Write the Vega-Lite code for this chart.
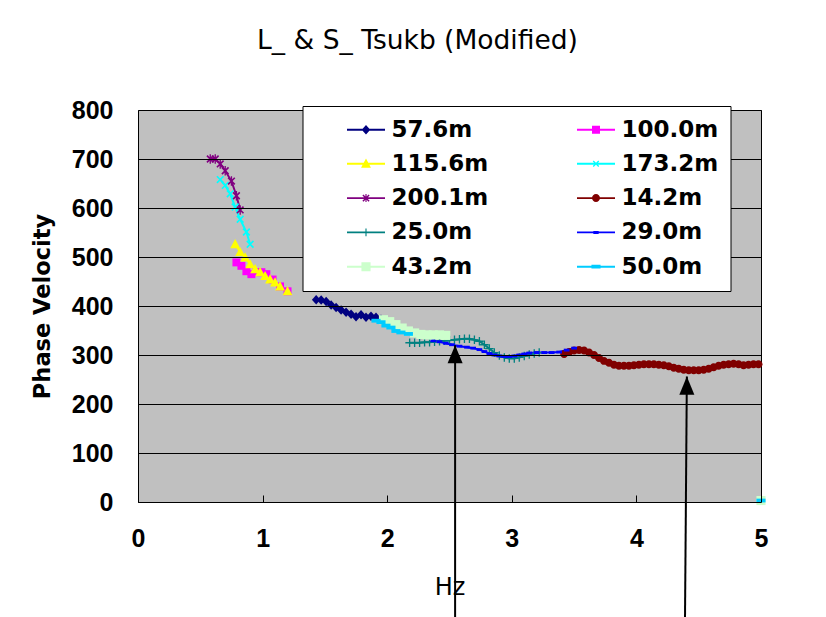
{
  "$schema": "https://vega.github.io/schema/vega-lite/v6.json",
  "autosize": {"type": "none"},
  "width": 623,
  "height": 392,
  "padding": {"left": 138, "top": 110, "right": 65, "bottom": 115},
  "background": "white",
  "view": {"fill": "#c0c0c0", "stroke": "black", "strokeWidth": 1},
  "title": {
    "text": "L_ & S_ Tsukb (Modified)",
    "font": "DejaVu Sans",
    "fontSize": 26.5,
    "fontWeight": "normal",
    "color": "black",
    "anchor": "middle",
    "dx": -32,
    "offset": 44
  },
  "config": {
    "axis": {
      "labelColor": "black",
      "titleColor": "black",
      "labelFont": "Liberation Sans",
      "labelFontWeight": "bold",
      "labelFontSize": 25
    }
  },
  "datasets": {
    "pts": [
      {"s": "57.6m", "f": 1.43, "v": 413}, {"s": "57.6m", "f": 1.47, "v": 412}, {"s": "57.6m", "f": 1.51, "v": 409}, {"s": "57.6m", "f": 1.55, "v": 402}, {"s": "57.6m", "f": 1.59, "v": 397}, {"s": "57.6m", "f": 1.63, "v": 392}, {"s": "57.6m", "f": 1.67, "v": 387}, {"s": "57.6m", "f": 1.71, "v": 383}, {"s": "57.6m", "f": 1.75, "v": 378}, {"s": "57.6m", "f": 1.79, "v": 382}, {"s": "57.6m", "f": 1.83, "v": 377}, {"s": "57.6m", "f": 1.87, "v": 379}, {"s": "57.6m", "f": 1.91, "v": 377}, {"s": "57.6m", "f": 1.95, "v": 373},
      {"s": "100.0m", "f": 0.79, "v": 489}, {"s": "100.0m", "f": 0.83, "v": 482}, {"s": "100.0m", "f": 0.87, "v": 471}, {"s": "100.0m", "f": 0.91, "v": 465}, {"s": "100.0m", "f": 0.95, "v": 469}, {"s": "100.0m", "f": 0.99, "v": 469}, {"s": "100.0m", "f": 1.03, "v": 465}, {"s": "100.0m", "f": 1.08, "v": 454}, {"s": "100.0m", "f": 1.14, "v": 440}, {"s": "100.0m", "f": 1.2, "v": 430},
      {"s": "115.6m", "f": 0.78, "v": 526}, {"s": "115.6m", "f": 0.82, "v": 510}, {"s": "115.6m", "f": 0.86, "v": 499}, {"s": "115.6m", "f": 0.9, "v": 485}, {"s": "115.6m", "f": 0.94, "v": 475}, {"s": "115.6m", "f": 0.98, "v": 469}, {"s": "115.6m", "f": 1.02, "v": 461}, {"s": "115.6m", "f": 1.06, "v": 454}, {"s": "115.6m", "f": 1.1, "v": 448}, {"s": "115.6m", "f": 1.14, "v": 440}, {"s": "115.6m", "f": 1.2, "v": 430},
      {"s": "173.2m", "f": 0.66, "v": 658}, {"s": "173.2m", "f": 0.7, "v": 646}, {"s": "173.2m", "f": 0.74, "v": 629}, {"s": "173.2m", "f": 0.78, "v": 602}, {"s": "173.2m", "f": 0.82, "v": 577}, {"s": "173.2m", "f": 0.87, "v": 551}, {"s": "173.2m", "f": 0.9, "v": 526},
      {"s": "200.1m", "f": 0.58, "v": 700}, {"s": "200.1m", "f": 0.62, "v": 700}, {"s": "200.1m", "f": 0.66, "v": 690}, {"s": "200.1m", "f": 0.7, "v": 676}, {"s": "200.1m", "f": 0.75, "v": 655}, {"s": "200.1m", "f": 0.79, "v": 625}, {"s": "200.1m", "f": 0.82, "v": 596},
      {"s": "14.2m", "f": 3.42, "v": 302}, {"s": "14.2m", "f": 3.46, "v": 306}, {"s": "14.2m", "f": 3.5, "v": 309}, {"s": "14.2m", "f": 3.54, "v": 310}, {"s": "14.2m", "f": 3.58, "v": 309}, {"s": "14.2m", "f": 3.62, "v": 305}, {"s": "14.2m", "f": 3.66, "v": 300}, {"s": "14.2m", "f": 3.7, "v": 294}, {"s": "14.2m", "f": 3.74, "v": 288}, {"s": "14.2m", "f": 3.78, "v": 284}, {"s": "14.2m", "f": 3.82, "v": 280}, {"s": "14.2m", "f": 3.86, "v": 278}, {"s": "14.2m", "f": 3.9, "v": 278}, {"s": "14.2m", "f": 3.94, "v": 278}, {"s": "14.2m", "f": 3.98, "v": 279}, {"s": "14.2m", "f": 4.02, "v": 280}, {"s": "14.2m", "f": 4.06, "v": 281}, {"s": "14.2m", "f": 4.1, "v": 281}, {"s": "14.2m", "f": 4.14, "v": 281}, {"s": "14.2m", "f": 4.18, "v": 280}, {"s": "14.2m", "f": 4.22, "v": 279}, {"s": "14.2m", "f": 4.26, "v": 277}, {"s": "14.2m", "f": 4.3, "v": 274}, {"s": "14.2m", "f": 4.34, "v": 272}, {"s": "14.2m", "f": 4.38, "v": 270}, {"s": "14.2m", "f": 4.42, "v": 269}, {"s": "14.2m", "f": 4.46, "v": 269}, {"s": "14.2m", "f": 4.5, "v": 269}, {"s": "14.2m", "f": 4.54, "v": 270}, {"s": "14.2m", "f": 4.58, "v": 272}, {"s": "14.2m", "f": 4.62, "v": 275}, {"s": "14.2m", "f": 4.66, "v": 278}, {"s": "14.2m", "f": 4.7, "v": 280}, {"s": "14.2m", "f": 4.74, "v": 281}, {"s": "14.2m", "f": 4.78, "v": 282}, {"s": "14.2m", "f": 4.82, "v": 281}, {"s": "14.2m", "f": 4.86, "v": 279}, {"s": "14.2m", "f": 4.9, "v": 280}, {"s": "14.2m", "f": 4.94, "v": 281}, {"s": "14.2m", "f": 4.98, "v": 281},
      {"s": "25.0m", "f": 2.18, "v": 325}, {"s": "25.0m", "f": 2.22, "v": 325}, {"s": "25.0m", "f": 2.26, "v": 325}, {"s": "25.0m", "f": 2.3, "v": 326}, {"s": "25.0m", "f": 2.34, "v": 326}, {"s": "25.0m", "f": 2.38, "v": 327}, {"s": "25.0m", "f": 2.42, "v": 328}, {"s": "25.0m", "f": 2.46, "v": 329}, {"s": "25.0m", "f": 2.5, "v": 330}, {"s": "25.0m", "f": 2.54, "v": 331}, {"s": "25.0m", "f": 2.58, "v": 332}, {"s": "25.0m", "f": 2.62, "v": 333}, {"s": "25.0m", "f": 2.66, "v": 333}, {"s": "25.0m", "f": 2.7, "v": 331}, {"s": "25.0m", "f": 2.74, "v": 328}, {"s": "25.0m", "f": 2.78, "v": 321}, {"s": "25.0m", "f": 2.82, "v": 313}, {"s": "25.0m", "f": 2.86, "v": 305}, {"s": "25.0m", "f": 2.9, "v": 299}, {"s": "25.0m", "f": 2.94, "v": 295}, {"s": "25.0m", "f": 2.98, "v": 293}, {"s": "25.0m", "f": 3.02, "v": 293}, {"s": "25.0m", "f": 3.06, "v": 295}, {"s": "25.0m", "f": 3.1, "v": 298}, {"s": "25.0m", "f": 3.14, "v": 301}, {"s": "25.0m", "f": 3.18, "v": 303}, {"s": "25.0m", "f": 3.22, "v": 305},
      {"s": "29.0m", "f": 2.37, "v": 329}, {"s": "29.0m", "f": 2.42, "v": 327}, {"s": "29.0m", "f": 2.47, "v": 324}, {"s": "29.0m", "f": 2.52, "v": 321}, {"s": "29.0m", "f": 2.58, "v": 318}, {"s": "29.0m", "f": 2.64, "v": 316}, {"s": "29.0m", "f": 2.69, "v": 314}, {"s": "29.0m", "f": 2.74, "v": 311}, {"s": "29.0m", "f": 2.78, "v": 307}, {"s": "29.0m", "f": 2.82, "v": 303}, {"s": "29.0m", "f": 2.86, "v": 300}, {"s": "29.0m", "f": 2.9, "v": 298}, {"s": "29.0m", "f": 2.94, "v": 297}, {"s": "29.0m", "f": 2.98, "v": 297}, {"s": "29.0m", "f": 3.02, "v": 298}, {"s": "29.0m", "f": 3.06, "v": 300}, {"s": "29.0m", "f": 3.1, "v": 302}, {"s": "29.0m", "f": 3.14, "v": 304}, {"s": "29.0m", "f": 3.2, "v": 305}, {"s": "29.0m", "f": 3.26, "v": 305}, {"s": "29.0m", "f": 3.32, "v": 305}, {"s": "29.0m", "f": 3.38, "v": 306}, {"s": "29.0m", "f": 3.44, "v": 310}, {"s": "29.0m", "f": 3.5, "v": 314},
      {"s": "43.2m", "f": 1.97, "v": 372}, {"s": "43.2m", "f": 2.02, "v": 368}, {"s": "43.2m", "f": 2.07, "v": 362}, {"s": "43.2m", "f": 2.12, "v": 355}, {"s": "43.2m", "f": 2.17, "v": 349}, {"s": "43.2m", "f": 2.22, "v": 345}, {"s": "43.2m", "f": 2.27, "v": 342}, {"s": "43.2m", "f": 2.32, "v": 341}, {"s": "43.2m", "f": 2.37, "v": 341}, {"s": "43.2m", "f": 2.42, "v": 341}, {"s": "43.2m", "f": 2.47, "v": 340}, {"s": "43.2m", "f": 5.0, "v": 3, "seg": 2},
      {"s": "50.0m", "f": 1.91, "v": 370}, {"s": "50.0m", "f": 1.95, "v": 367}, {"s": "50.0m", "f": 1.99, "v": 360}, {"s": "50.0m", "f": 2.03, "v": 356}, {"s": "50.0m", "f": 2.07, "v": 349}, {"s": "50.0m", "f": 2.11, "v": 346}, {"s": "50.0m", "f": 2.17, "v": 343}, {"s": "50.0m", "f": 5.0, "v": 3, "seg": 2}
    ],
    "arrows": [
      {"f": 2.545, "v": 320, "f2": 2.545, "v2": -240},
      {"f": 4.405, "v": 256, "f2": 4.39, "v2": -240}
    ]
  },
  "resolve": {"scale": {"color": "independent", "shape": "independent"}},
  "layer": [
    {
      "data": {"name": "pts"},
      "mark": {"type": "line", "strokeWidth": 2},
      "encoding": {
        "x": {
          "field": "f", "type": "quantitative",
          "scale": {"domain": [0, 5], "nice": false, "zero": false},
          "axis": {
            "title": "Hz", "values": [0, 1, 2, 3, 4, 5], "format": "d", "grid": false, "domain": false,
            "ticks": true, "tickSize": -7, "tickColor": "black", "tickWidth": 1, "tickOpacity": 1,
            "labelPadding": 31, "labelFlush": false, "zindex": 1,
            "titleFont": "DejaVu Sans", "titleFontSize": 24, "titleFontWeight": "normal", "titlePadding": 24
          }
        },
        "y": {
          "field": "v", "type": "quantitative",
          "scale": {"domain": [0, 800], "nice": false},
          "axis": {
            "title": "Phase Velocity", "values": [0, 100, 200, 300, 400, 500, 600, 700, 800],
            "grid": true, "gridColor": "black", "gridWidth": 1, "gridOpacity": 1,
            "domain": false, "ticks": false, "labelPadding": 25, "labelFlush": false, "zindex": 1,
            "titleFont": "DejaVu Sans", "titleFontSize": 22.5, "titleFontWeight": "bold", "titlePadding": 17
          }
        },
        "color": {
          "field": "s", "type": "nominal", "legend": null,
          "scale": {
            "domain": ["57.6m", "100.0m", "115.6m", "173.2m", "200.1m", "14.2m", "25.0m", "29.0m", "43.2m", "50.0m"],
            "range": ["#000080", "#ff00ff", "#ffff00", "#00ffff", "#800080", "#800000", "#008080", "#0000ff", "#ccffcc", "#00ccff"]
          }
        },
        "detail": {"field": "seg", "type": "nominal"}
      }
    },
    {
      "data": {"name": "pts"},
      "mark": {"type": "point", "filled": true, "opacity": 1, "size": 361, "strokeWidth": 0},
      "encoding": {
        "x": {"field": "f", "type": "quantitative"},
        "y": {"field": "v", "type": "quantitative"},
        "color": {
          "field": "s", "type": "nominal", "legend": null,
          "scale": {
            "domain": ["57.6m", "100.0m", "115.6m", "173.2m", "200.1m", "14.2m", "25.0m", "29.0m", "43.2m", "50.0m"],
            "range": ["#000080", "#ff00ff", "#ffff00", "#00ffff", "#800080", "#800000", "#008080", "#0000ff", "#ccffcc", "#00ccff"]
          }
        },
        "shape": {
          "field": "s", "type": "nominal", "legend": null,
          "scale": {
            "domain": ["57.6m", "100.0m", "115.6m", "173.2m", "200.1m", "14.2m", "25.0m", "29.0m", "43.2m", "50.0m"],
            "range": [
              "M0,-0.5L0.45,0L0,0.5L-0.45,0Z",
              "M-0.42,-0.42H0.42V0.42H-0.42Z",
              "M0,-0.55L0.52,0.42H-0.52Z",
              "M-0.41,-0.29L-0.29,-0.41L0.41,0.29L0.29,0.41ZM0.29,-0.41L0.41,-0.29L-0.29,0.41L-0.41,0.29Z",
              "M-0.41,-0.29L-0.29,-0.41L0.41,0.29L0.29,0.41ZM0.29,-0.41L0.41,-0.29L-0.29,0.41L-0.41,0.29ZM-0.07,-0.5H0.07V0.5H-0.07Z",
              "M0.42,0A0.42,0.42,0,1,1,-0.42,0A0.42,0.42,0,1,1,0.42,0Z",
              "M-0.45,-0.07H0.45V0.07H-0.45ZM-0.07,-0.45H0.07V0.45H-0.07Z",
              "M-0.3,-0.15H0.3V0.15H-0.3Z",
              "M-0.48,-0.48H0.48V0.48H-0.48Z",
              "M-0.48,-0.2H0.48V0.2H-0.48Z"
            ]
          }
        }
      }
    },
    {
      "data": {"name": "pts"},
      "transform": [{"filter": "false"}],
      "mark": {"type": "point", "filled": true, "opacity": 1, "size": 361, "strokeWidth": 0},
      "encoding": {
        "color": {
          "field": "s", "type": "nominal",
          "scale": {
            "domain": ["57.6m", "100.0m", "115.6m", "173.2m", "200.1m", "14.2m", "25.0m", "29.0m", "43.2m", "50.0m"],
            "range": ["#000080", "#ff00ff", "#ffff00", "#00ffff", "#800080", "#800000", "#008080", "#0000ff", "#ccffcc", "#00ccff"]
          },
          "legend": {
            "title": null, "orient": "none", "legendX": 164.5, "legendY": -4,
            "columns": 2, "direction": "horizontal", "zindex": 2,
            "fillColor": "white", "strokeColor": "black",
            "padding": 12, "rowPadding": 10.3, "columnPadding": 56,
            "symbolSize": 361, "symbolOffset": 30.5, "labelOffset": 23.5,
            "labelFont": "DejaVu Sans", "labelFontSize": 23, "labelFontWeight": "bold", "labelColor": "black", "labelLimit": 0
          }
        },
        "shape": {
          "field": "s", "type": "nominal",
          "scale": {
            "domain": ["57.6m", "100.0m", "115.6m", "173.2m", "200.1m", "14.2m", "25.0m", "29.0m", "43.2m", "50.0m"],
            "range": [
              "M-1,-0.1H3V0.1H-1ZM1,-0.5L1.45,0L1,0.5L0.55,0Z",
              "M-1,-0.1H3V0.1H-1ZM0.58,-0.42H1.42V0.42H0.58Z",
              "M-1,-0.1H3V0.1H-1ZM1,-0.55L1.52,0.42H0.48Z",
              "M-1,-0.1H3V0.1H-1ZM0.66,-0.24L0.76,-0.34L1.34,0.24L1.24,0.34ZM1.24,-0.34L1.34,-0.24L0.76,0.34L0.66,0.24Z",
              "M-1,-0.1H3V0.1H-1ZM0.62,-0.27L0.73,-0.38L1.38,0.27L1.27,0.38ZM1.27,-0.38L1.38,-0.27L0.73,0.38L0.62,0.27ZM0.94,-0.42H1.06V0.42H0.94Z",
              "M-1,-0.1H3V0.1H-1ZM1.42,0A0.42,0.42,0,1,1,0.58,0A0.42,0.42,0,1,1,1.42,0Z",
              "M-1,-0.1H3V0.1H-1ZM0.6,-0.06H1.4V0.06H0.6ZM0.94,-0.4H1.06V0.4H0.94Z",
              "M-1,-0.1H3V0.1H-1ZM0.72,-0.16H1.28V0.16H0.72Z",
              "M-1,-0.1H3V0.1H-1ZM0.52,-0.48H1.48V0.48H0.52Z",
              "M-1,-0.1H3V0.1H-1ZM0.52,-0.2H1.48V0.2H0.52Z"
            ]
          }
        }
      }
    },
    {
      "data": {"name": "arrows"},
      "mark": {"type": "rule", "color": "black", "strokeWidth": 2},
      "encoding": {
        "x": {"field": "f", "type": "quantitative"},
        "y": {"field": "v", "type": "quantitative"},
        "x2": {"field": "f2"},
        "y2": {"field": "v2"}
      }
    },
    {
      "data": {"name": "arrows"},
      "mark": {"type": "point", "filled": true, "opacity": 1, "color": "black", "size": 1024, "strokeWidth": 0, "shape": "M0,0L0.47,1.13L-0.47,1.13Z"},
      "encoding": {
        "x": {"field": "f", "type": "quantitative"},
        "y": {"field": "v", "type": "quantitative"}
      }
    }
  ]
}
